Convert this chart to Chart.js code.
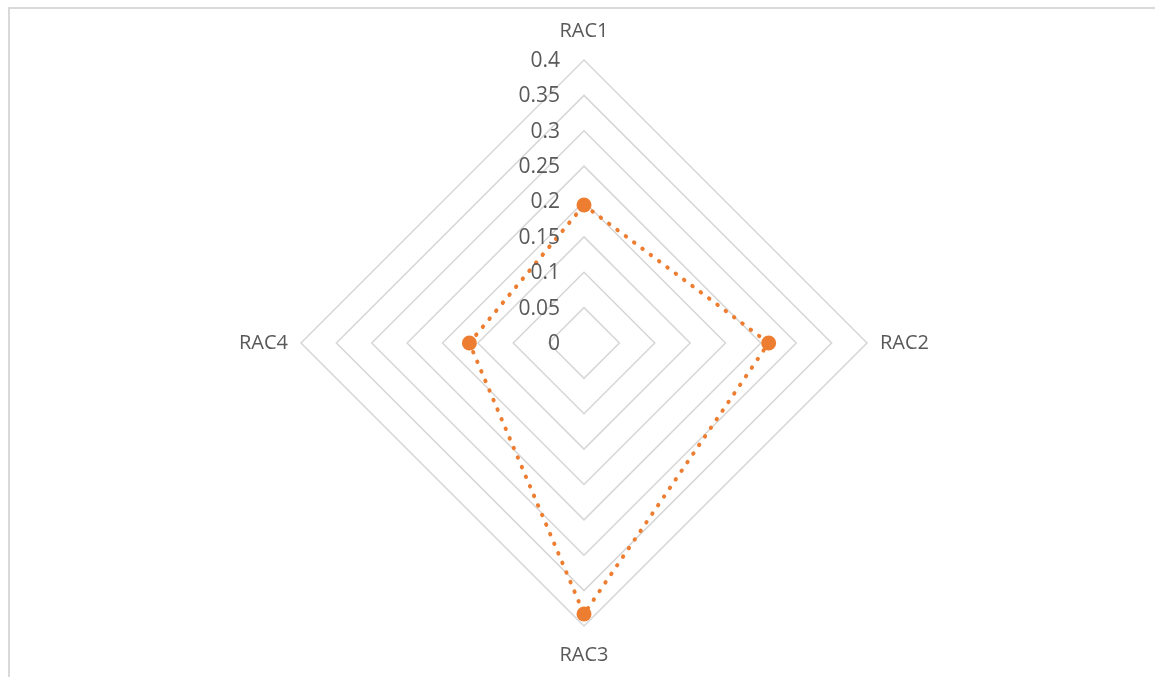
<!DOCTYPE html>
<html>
<head>
<meta charset="utf-8">
<script src="https://cdn.jsdelivr.net/npm/chart.js@4/dist/chart.umd.min.js"></script>
<style>
  body { margin: 0; background: #fff; }
  #wrap { position: relative; width: 1155px; height: 677px; overflow: hidden; }
  #frame {
    position: absolute; left: 8px; top: 7px; width: 1300px; height: 900px;
    border-left: 2px solid #d9d9d9; border-top: 2px solid #d9d9d9;
  }
  #chart { position: absolute; left: 0; top: 0; }
</style>
</head>
<body>
<div id="wrap">
  <div id="frame"></div>
  <canvas id="chart" width="1155" height="677"></canvas>
</div>
<script>
var categories = ['RAC1', 'RAC2', 'RAC3', 'RAC4'];
var values = [0.195, 0.261, 0.383, 0.162];
var tickLabels = ['0', '0.05', '0.1', '0.15', '0.2', '0.25', '0.3', '0.35', '0.4'];

var textColor = '#595959';
var orange = '#ED7D31';

// tick labels sit left of the vertical axis, right-aligned like in Excel
var tickLabelPlugin = {
  id: 'tickLabels',
  afterDraw: function(chart) {
    var scale = chart.scales.r;
    var ctx = chart.ctx;
    ctx.save();
    ctx.font = '21px "Open Sans"';
    ctx.fillStyle = textColor;
    ctx.textAlign = 'right';
    ctx.textBaseline = 'middle';
    tickLabels.forEach(function(label) {
      var d = scale.getDistanceFromCenterForValue(parseFloat(label));
      ctx.fillText(label, scale.xCenter - 24, scale.yCenter - d + 1);
    });
    ctx.restore();
  }
};

var ctx = document.getElementById('chart').getContext('2d');
var chart = new Chart(ctx, {
  type: 'radar',
  data: {
    labels: categories,
    datasets: [{
      data: values,
      borderColor: orange,
      borderWidth: 4,
      borderDash: [0.5, 9.9],
      borderCapStyle: 'round',
      fill: false,
      tension: 0,
      pointRadius: 7.5,
      pointBorderWidth: 0,
      pointBackgroundColor: orange
    }]
  },
  options: {
    responsive: false,
    animation: false,
    layout: { padding: { left: 14, right: 0, top: 15, bottom: 6 } },
    plugins: {
      legend: { display: false },
      tooltip: { enabled: false }
    },
    scales: {
      r: {
        min: 0,
        max: 0.4,
        ticks: { display: false, stepSize: 0.05 },
        angleLines: { display: false },
        grid: { color: '#d6d6d6', lineWidth: 1.5, circular: false },
        pointLabels: {
          padding: 13,
          color: textColor,
          font: { family: 'Open Sans', size: 20, lineHeight: 32 / 20 }
        }
      }
    }
  },
  plugins: [tickLabelPlugin]
});
</script>
</body>
</html>
